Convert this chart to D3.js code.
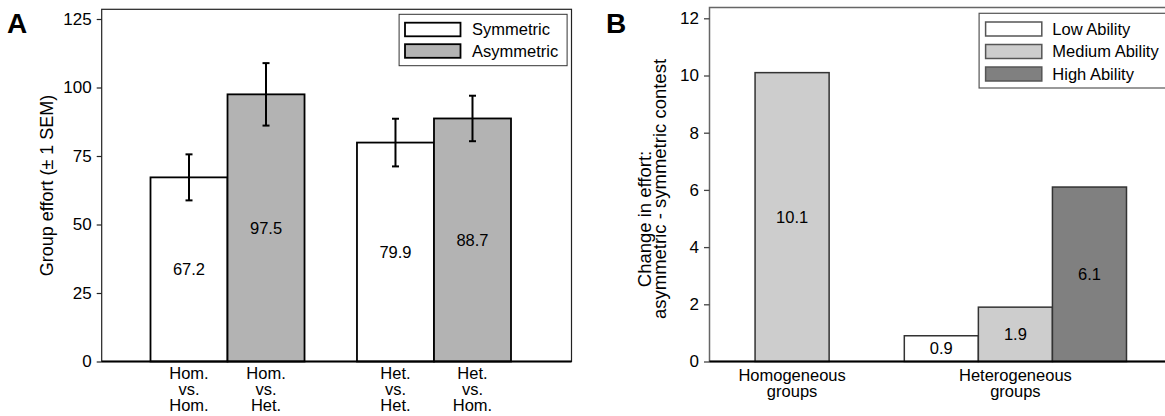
<!DOCTYPE html>
<html>
<head>
<meta charset="utf-8">
<script src="https://cdn.jsdelivr.net/npm/d3@7"></script>
<style>
  body { margin: 0; background: #fff; }
  svg { display: block; font-family: "Liberation Sans", Arial, sans-serif; }
  .tick text { font-size: 17px; fill: #000; }
</style>
</head>
<body>
<svg id="chart" width="1165" height="416"></svg>
<script>
// ---- panel A data ----
const groupsA = ["Homogeneous", "Heterogeneous"];
const contestsA = ["Symmetric", "Asymmetric"];
const effortA = [[67.2, 97.5], [79.9, 88.7]];
const semA = [[8.4, 11.4], [8.7, 8.3]];
const barLabelsA = [["Hom.", "vs.", "Hom."], ["Hom.", "vs.", "Het."], ["Het.", "vs.", "Het."], ["Het.", "vs.", "Hom."]];
const yTicksA = [0, 25, 50, 75, 100, 125];
const fillA = ["#ffffff", "#b3b3b3"];

// ---- panel B data ----
const groupsB = ["Homogeneous", "Heterogeneous"];
const groupLabelsB = [["Homogeneous", "groups"], ["Heterogeneous", "groups"]];
const abilitiesB = ["Low Ability", "Medium Ability", "High Ability"];
const changeB = [[null, 10.1, null], [0.9, 1.9, 6.1]];
const yTicksB = [0, 2, 4, 6, 8, 10, 12];
const fillB = ["#ffffff", "#cdcdcd", "#808080"];

const svg = d3.select('#chart');

// ================= Panel A =================
const frameA = {left: 101.7, right: 571.5, top: 9.3, bottom: 361.5};
const yA = d3.scaleLinear().domain([0, 125]).range([361.5, 19]);
const xA = d3.scaleBand().domain(groupsA).range([150.5, 511]).paddingInner(0.254);
const xAin = d3.scaleBand().domain(contestsA).range([0, xA.bandwidth()]);

const gA = svg.append('g').attr('class', 'panelA');

gA.append('rect')
  .attr('x', frameA.left).attr('y', frameA.top)
  .attr('width', frameA.right - frameA.left).attr('height', frameA.bottom - frameA.top)
  .attr('fill', 'none').attr('stroke', '#222').attr('stroke-width', 1.2);

// y axis
const axisA = gA.append('g')
  .attr('transform', `translate(${frameA.left},0)`)
  .call(d3.axisLeft(yA).tickValues(yTicksA).tickSize(5).tickPadding(5));
axisA.select('.domain').remove();
axisA.selectAll('.tick line').attr('stroke', '#222').attr('stroke-width', 1.2);

// bars
const barsA = [];
groupsA.forEach((g, gi) => contestsA.forEach((c, ci) => {
  barsA.push({group: g, contest: c, ci, value: effortA[gi][ci], sem: semA[gi][ci], label: barLabelsA[gi * 2 + ci]});
}));

const barA = gA.selectAll('g.bar').data(barsA).enter().append('g').attr('class', 'bar');
barA.append('rect')
  .attr('x', d => xA(d.group) + xAin(d.contest))
  .attr('y', d => yA(d.value))
  .attr('width', xAin.bandwidth())
  .attr('height', d => yA(0) - yA(d.value))
  .attr('fill', d => fillA[d.ci])
  .attr('stroke', '#000').attr('stroke-width', 1.8);

// value labels
barA.append('text')
  .attr('x', d => xA(d.group) + xAin(d.contest) + xAin.bandwidth() / 2)
  .attr('y', d => yA(d.value / 2))
  .attr('dy', '0.35em')
  .attr('text-anchor', 'middle')
  .style('font-size', '16.5px')
  .text(d => d.value.toFixed(1));

// error bars
const errA = barA.append('g').attr('stroke', '#000').attr('stroke-width', 2);
const cx = d => xA(d.group) + xAin(d.contest) + xAin.bandwidth() / 2;
errA.append('line')
  .attr('x1', cx).attr('x2', cx)
  .attr('y1', d => yA(d.value - d.sem)).attr('y2', d => yA(d.value + d.sem));
[1, -1].forEach(s => {
  errA.append('line')
    .attr('x1', d => cx(d) - 3.5).attr('x2', d => cx(d) + 3.5)
    .attr('y1', d => yA(d.value + s * d.sem)).attr('y2', d => yA(d.value + s * d.sem));
});

// x labels (three lines)
barA.append('text')
  .attr('text-anchor', 'middle')
  .style('font-size', '16.5px')
  .selectAll('tspan').data(d => d.label.map(t => ({t, x: cx(d)}))).enter().append('tspan')
  .attr('x', d => d.x)
  .attr('y', (d, i) => 378.5 + i * 16)
  .text(d => d.t);

// bottom axis line
gA.append('line')
  .attr('x1', frameA.left).attr('x2', frameA.right)
  .attr('y1', yA(0)).attr('y2', yA(0))
  .attr('stroke', '#000').attr('stroke-width', 2);

// y label
gA.append('text')
  .attr('transform', `translate(52.5,185.5) rotate(-90)`)
  .attr('text-anchor', 'middle')
  .style('font-size', '18px')
  .text('Group effort (± 1 SEM)');

// legend
const legA = gA.append('g');
legA.append('rect')
  .attr('x', 399.1).attr('y', 14.3).attr('width', 168).attr('height', 51.4)
  .attr('fill', '#fff').attr('stroke', '#333').attr('stroke-width', 1);
const legItemA = legA.selectAll('g.item').data(contestsA).enter().append('g')
  .attr('transform', (d, i) => `translate(0,${29.5 + i * 21.5})`);
legItemA.append('rect')
  .attr('x', 405).attr('y', -6.8).attr('width', 55.5).attr('height', 13.6)
  .attr('fill', (d, i) => fillA[i]).attr('stroke', '#000').attr('stroke-width', 1.8);
legItemA.append('text')
  .attr('x', 472).attr('dy', '0.35em')
  .style('font-size', '16.5px')
  .text(d => d);

// panel letter
gA.append('text')
  .attr('x', 7).attr('y', 33.3)
  .style('font-size', '28px').style('font-weight', 'bold')
  .text('A');

// ================= Panel B =================
const frameB = {left: 709.5, right: 1175, top: 7.5, bottom: 361.5};
const yB = d3.scaleLinear().domain([0, 12]).range([361.5, 18.3]);
const xB = d3.scaleBand().domain(groupsB).range([681, 1126.5]).paddingInner(0.005);
const xBin = d3.scaleBand().domain(abilitiesB).range([0, xB.bandwidth()]);

const gB = svg.append('g').attr('class', 'panelB');

gB.append('rect')
  .attr('x', frameB.left).attr('y', frameB.top)
  .attr('width', frameB.right - frameB.left).attr('height', frameB.bottom - frameB.top)
  .attr('fill', 'none').attr('stroke', '#666').attr('stroke-width', 1.5);

const axisB = gB.append('g')
  .attr('transform', `translate(${frameB.left},0)`)
  .call(d3.axisLeft(yB).tickValues(yTicksB).tickSize(5.5).tickPadding(5));
axisB.select('.domain').remove();
axisB.selectAll('.tick line').attr('stroke', '#444').attr('stroke-width', 1.3);

const barsB = [];
groupsB.forEach((g, gi) => abilitiesB.forEach((a, ai) => {
  if (changeB[gi][ai] !== null) barsB.push({group: g, ability: a, ai, value: changeB[gi][ai]});
}));

const barB = gB.selectAll('g.bar').data(barsB).enter().append('g').attr('class', 'bar');
barB.append('rect')
  .attr('x', d => xB(d.group) + xBin(d.ability))
  .attr('y', d => yB(d.value))
  .attr('width', xBin.bandwidth())
  .attr('height', d => yB(0) - yB(d.value))
  .attr('fill', d => fillB[d.ai])
  .attr('stroke', '#333').attr('stroke-width', 1.5);
barB.append('text')
  .attr('x', d => xB(d.group) + xBin(d.ability) + xBin.bandwidth() / 2)
  .attr('y', d => yB(d.value / 2))
  .attr('dy', '0.35em')
  .attr('text-anchor', 'middle')
  .style('font-size', '16.5px')
  .text(d => d.value.toFixed(1));

gB.append('line')
  .attr('x1', frameB.left).attr('x2', frameB.right)
  .attr('y1', yB(0)).attr('y2', yB(0))
  .attr('stroke', '#000').attr('stroke-width', 2);

// group labels
gB.selectAll('text.grp').data(groupsB).enter().append('text')
  .attr('class', 'grp')
  .attr('text-anchor', 'middle')
  .style('font-size', '16.5px')
  .selectAll('tspan').data((d, i) => groupLabelsB[i].map(t => ({t, x: xB(d) + xB.bandwidth() / 2}))).enter().append('tspan')
  .attr('x', d => d.x)
  .attr('y', (d, i) => 380.5 + i * 16.5)
  .text(d => d.t);

// y label (two lines)
gB.append('text')
  .attr('transform', `translate(650.5,219) rotate(-90)`)
  .attr('text-anchor', 'middle')
  .style('font-size', '18.5px')
  .text('Change in effort:');
gB.append('text')
  .attr('transform', `translate(666,189) rotate(-90)`)
  .attr('text-anchor', 'middle')
  .style('font-size', '18.5px')
  .text('asymmetric - symmetric contest');

// legend
const legB = gB.append('g');
legB.append('rect')
  .attr('x', 979.1).attr('y', 13.3).attr('width', 200).attr('height', 74.7)
  .attr('fill', '#fff').attr('stroke', '#555').attr('stroke-width', 1.2);
const legItemB = legB.selectAll('g.item').data(abilitiesB).enter().append('g')
  .attr('transform', (d, i) => `translate(0,${29 + i * 22.5})`);
legItemB.append('rect')
  .attr('x', 985.6).attr('y', -7).attr('width', 56.2).attr('height', 14)
  .attr('fill', (d, i) => fillB[i]).attr('stroke', '#555').attr('stroke-width', 1.5);
legItemB.append('text')
  .attr('x', 1052.3).attr('dy', '0.35em')
  .style('font-size', '16.5px')
  .text(d => d);

gB.append('text')
  .attr('x', 606).attr('y', 33.3)
  .style('font-size', '28px').style('font-weight', 'bold')
  .text('B');
</script>
</body>
</html>
